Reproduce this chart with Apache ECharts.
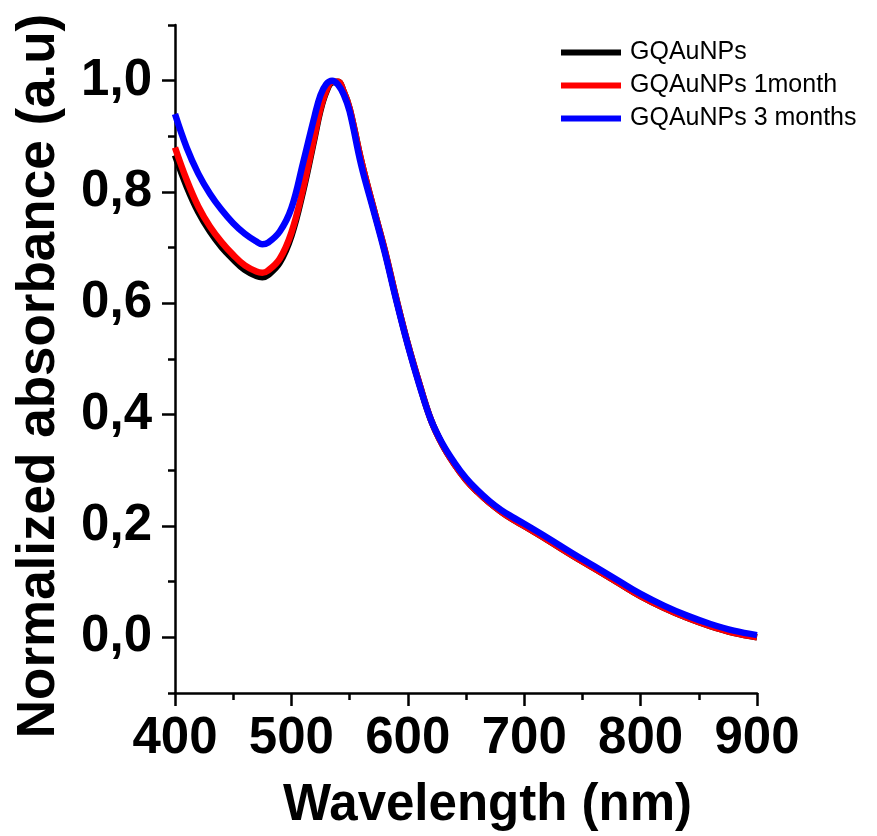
<!DOCTYPE html>
<html>
<head>
<meta charset="utf-8">
<script src="https://cdn.jsdelivr.net/npm/echarts@6/dist/echarts.min.js"></script>
<style>html,body{margin:0;padding:0;background:#fff}#c{width:877px;height:836px}</style>
</head>
<body>
<div id="c"></div>
<script>
const wavelength = [400,410,420,430,440,450,460,470,475,480,490,500,510,520,525,530,535,540,545,550,560,570,580,590,600,610,620,630,640,650,660,670,680,690,700,720,740,760,780,800,820,840,860,880,900];
const fresh = [0.866,0.810,0.764,0.729,0.701,0.679,0.660,0.649,0.647,0.651,0.673,0.721,0.801,0.898,0.947,0.980,0.997,0.998,0.980,0.950,0.856,0.775,0.697,0.609,0.527,0.455,0.390,0.345,0.311,0.283,0.261,0.242,0.226,0.212,0.200,0.175,0.149,0.124,0.099,0.074,0.053,0.035,0.020,0.008,0.000];
const oneMonth = [0.880,0.822,0.774,0.738,0.710,0.687,0.668,0.657,0.655,0.659,0.680,0.727,0.806,0.902,0.950,0.982,0.998,0.998,0.980,0.950,0.856,0.775,0.697,0.609,0.527,0.455,0.390,0.345,0.311,0.283,0.261,0.242,0.226,0.212,0.200,0.175,0.149,0.124,0.099,0.074,0.053,0.035,0.020,0.008,0.000];
const threeMonths = [0.940,0.880,0.833,0.797,0.768,0.744,0.725,0.711,0.706,0.709,0.729,0.771,0.852,0.937,0.974,0.994,1.000,0.993,0.975,0.945,0.848,0.771,0.693,0.606,0.525,0.453,0.390,0.347,0.314,0.286,0.264,0.245,0.229,0.216,0.204,0.179,0.153,0.128,0.103,0.078,0.057,0.039,0.024,0.012,0.004];
const seriesNames = ['GQAuNPs','GQAuNPs 1month','GQAuNPs 3 months'];
const seriesColors = ['#000000','#ff0000','#0000ff'];
const yMajorTicks = [0.0,0.2,0.4,0.6,0.8,1.0];
const yMinorTicks = [-0.1,0.1,0.3,0.5,0.7,0.9,1.1];
const xTicks = [400,500,600,700,800,900];

const FONT = 'Liberation Sans, Arial, sans-serif';
const allData = [fresh, oneMonth, threeMonths];
const chart = echarts.init(document.getElementById('c'), null, {renderer:'canvas'});
chart.setOption({
  animation:false,
  backgroundColor:'#fff',
  grid:{left:175,right:120,top:25,bottom:143,containLabel:false},
  legend:{
    left:561, top:40, orient:'vertical', itemWidth:60, itemHeight:6, itemGap:8, padding:0,
    icon:'rect',
    textStyle:{fontFamily:FONT,fontSize:25,color:'#000',padding:[0,0,0,4]},
    data:seriesNames
  },
  xAxis:{
    type:'value', min:400, max:900, interval:100,
    name:'Wavelength (nm)', nameLocation:'middle', nameGap:87,
    nameTextStyle:{fontFamily:FONT,fontSize:51,fontWeight:'bold',color:'#000',padding:[0,0,0,43]},
    axisLine:{show:true,onZero:false,lineStyle:{color:'#000',width:2.5}},
    axisTick:{show:true,length:13,lineStyle:{color:'#000',width:2.5}},
    minorTick:{show:true,splitNumber:2,length:7,lineStyle:{color:'#000',width:2.5}},
    splitLine:{show:false}, minorSplitLine:{show:false},
    axisLabel:{fontFamily:FONT,fontSize:51,fontWeight:'bold',color:'#000',margin:20,
      customValues:xTicks, formatter:v=>String(v)}
  },
  yAxis:[{
    type:'value', min:-0.1, max:1.1, position:'left',
    name:'Normalized absorbance (a.u)', nameLocation:'middle', nameGap:109, nameRotate:90,
    nameTextStyle:{fontFamily:FONT,fontSize:53,fontWeight:'bold',color:'#000',padding:[0,34,0,0]},
    axisLine:{show:true,onZero:false,lineStyle:{color:'#000',width:2.5}},
    axisTick:{show:true,length:13,lineStyle:{color:'#000',width:2.5},customValues:yMajorTicks},
    splitLine:{show:false},
    axisLabel:{fontFamily:FONT,fontSize:51,fontWeight:'bold',color:'#000',margin:23,
      customValues:yMajorTicks, formatter:v=>v.toFixed(1).replace('.',',')}
  },{
    type:'value', min:-0.1, max:1.1, position:'left', offset:0,
    axisLine:{show:false,onZero:false},
    axisTick:{show:true,length:7,lineStyle:{color:'#000',width:2.5},customValues:yMinorTicks},
    splitLine:{show:false},
    axisLabel:{show:false}
  }],
  series: seriesNames.map((n,i)=>({
    name:n, type:'line', smooth:0.4, showSymbol:false, symbol:'none',
    yAxisIndex:0,
    lineStyle:{color:seriesColors[i],width:6.5},
    itemStyle:{color:seriesColors[i]},
    data: wavelength.map((w,j)=>[w, allData[i][j]])
  }))
});
</script>
</body>
</html>
